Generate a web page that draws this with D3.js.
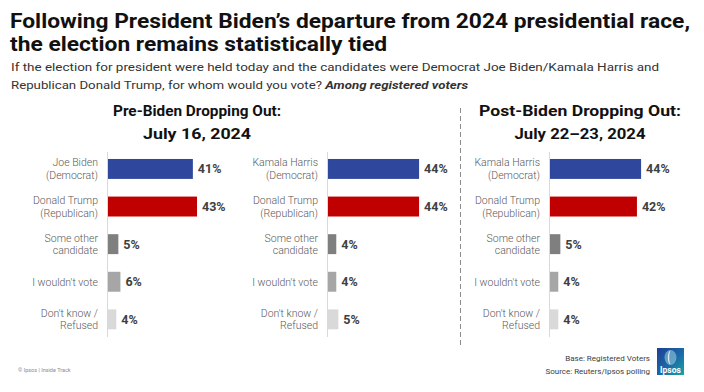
<!DOCTYPE html>
<html>
<head>
<meta charset="utf-8">
<script src="https://cdn.jsdelivr.net/npm/d3@7"></script>
<style>
  body { margin: 0; background: #fff; }
  svg { display: block; font-family: Roboto, "Noto Sans", sans-serif; }
</style>
</head>
<body>
<div id="chart"></div>
<script>
var svgWidth = 704;
var svgHeight = 392;

// data
var bidenLabels = ["Joe Biden|(Democrat)", "Donald Trump|(Republican)", "Some other|candidate", "I wouldn't vote", "Don't know /|Refused"];
var harrisLabels = ["Kamala Harris|(Democrat)", "Donald Trump|(Republican)", "Some other|candidate", "I wouldn't vote", "Don't know /|Refused"];
var preBidenValues = [41, 43, 5, 6, 4];
var preHarrisValues = [44, 44, 4, 4, 5];
var postHarrisValues = [44, 42, 5, 4, 4];
var headings = [
    ["Pre-Biden Dropping Out:", "July 16, 2024"],
    ["Post-Biden Dropping Out:", "July 22\u201323, 2024"]
];

var barColors = ["#2f479c", "#c00000", "#7f7f7f", "#a6a6a6", "#d9d9d9"];

var svg = d3.select("#chart")
    .append("svg")
    .attr("width", svgWidth)
    .attr("height", svgHeight);

// squeeze a text element to a measured width (the original uses a narrow font)
function fitText(sel, w) {
    var len = sel.node().getComputedTextLength();
    if (len > w + 1 || len < w - 1) {
        sel.attr("textLength", w).attr("lengthAdjust", "spacingAndGlyphs");
    }
    return sel;
}

// title
fitText(svg.append("text")
    .attr("x", 10).attr("y", 28)
    .attr("font-size", 21).attr("font-weight", 700).attr("fill", "#111")
    .text("Following President Biden\u2019s departure from 2024 presidential race,"), 680);
fitText(svg.append("text")
    .attr("x", 10).attr("y", 51)
    .attr("font-size", 21).attr("font-weight", 700).attr("fill", "#111")
    .text("the election remains statistically tied"), 377);

// subtitle
fitText(svg.append("text")
    .attr("x", 11).attr("y", 71)
    .attr("font-size", 11.5).attr("fill", "#333")
    .text("If the election for president were held today and the candidates were Democrat Joe Biden/Kamala Harris and"), 648);
var sub2 = svg.append("text")
    .attr("x", 11).attr("y", 89)
    .attr("font-size", 11.5).attr("fill", "#333");
sub2.append("tspan").text("Republican Donald Trump, for whom would you vote? ");
sub2.append("tspan").attr("font-weight", 700).attr("font-style", "italic").text("Among registered voters");
fitText(sub2, 457);

// panel headings
var headX = [197, 580];
var headW = [[168, 108], [202, 131]];
headings.forEach(function (h, i) {
    h.forEach(function (line, j) {
        fitText(svg.append("text")
            .attr("x", headX[i] - headW[i][j] / 2)
            .attr("y", 116 + j * 23)
            .attr("font-size", 15.5).attr("font-weight", 700).attr("fill", "#111")
            .text(line), headW[i][j]);
    });
});

// dashed divider
svg.append("line")
    .attr("x1", 460.5).attr("x2", 460.5)
    .attr("y1", 108).attr("y2", 347)
    .attr("stroke", "#8c8c8c")
    .attr("stroke-width", 1)
    .attr("stroke-dasharray", "5,3");

// scales
var xScale = d3.scaleLinear().domain([0, 50]).range([0, 103.5]);
var yScale = d3.scaleBand()
    .domain(d3.range(5))
    .range([141.3, 347])
    .padding(0.47);

var panels = [
    { x: 107, labels: bidenLabels, values: preBidenValues },
    { x: 327, labels: harrisLabels, values: preHarrisValues },
    { x: 549, labels: harrisLabels, values: postHarrisValues }
];

panels.forEach(function (p) {
    var g = svg.append("g").attr("transform", `translate(${p.x}, 0)`);

    g.append("line")
        .attr("x1", 0.5).attr("x2", 0.5)
        .attr("y1", 152).attr("y2", 337)
        .attr("stroke", "#d9d9d9");

    g.selectAll("rect")
        .data(p.values)
        .enter()
        .append("rect")
        .attr("x", 1)
        .attr("y", (d, i) => yScale(i))
        .attr("width", d => xScale(d))
        .attr("height", yScale.bandwidth())
        .attr("fill", (d, i) => barColors[i]);

    g.selectAll(".val")
        .data(p.values)
        .enter()
        .append("text")
        .attr("class", "val")
        .attr("x", d => xScale(d) + 6)
        .attr("y", (d, i) => yScale(i) + yScale.bandwidth() / 2 + 4.5)
        .attr("font-size", 12.5)
        .attr("font-weight", 700)
        .attr("fill", "#404040")
        .text(d => d + "%");

    p.labels.forEach(function (lab, i) {
        var lines = lab.split("|");
        var cy = yScale(i) + yScale.bandwidth() / 2;
        var t = g.append("text")
            .attr("text-anchor", "end")
            .attr("font-size", 10.5)
            .attr("font-weight", 300)
            .attr("fill", "#595959");
        lines.forEach(function (l, j) {
            t.append("tspan")
                .attr("x", -9)
                .attr("y", lines.length === 1 ? cy + 3.8 : cy - 2.5 + j * 12.5)
                .text(l);
        });
    });
});

// footer
svg.append("text")
    .attr("x", 18).attr("y", 372)
    .attr("font-size", 5.5).attr("fill", "#8c8c8c")
    .text("\u00a9 Ipsos | Inside Track");

svg.append("text")
    .attr("x", 650).attr("y", 361)
    .attr("text-anchor", "end")
    .attr("font-size", 8).attr("fill", "#404040")
    .text("Base: Registered Voters");
svg.append("text")
    .attr("x", 650).attr("y", 374)
    .attr("text-anchor", "end")
    .attr("font-size", 8).attr("fill", "#404040")
    .text("Source: Reuters/Ipsos polling");

// ipsos logo
var defs = svg.append("defs");
var grad = defs.append("linearGradient")
    .attr("id", "ipsosGrad")
    .attr("x1", "0%").attr("y1", "0%")
    .attr("x2", "100%").attr("y2", "100%");
grad.append("stop").attr("offset", "0%").attr("stop-color", "#1e3e95");
grad.append("stop").attr("offset", "55%").attr("stop-color", "#1c6aa8");
grad.append("stop").attr("offset", "100%").attr("stop-color", "#19a6a2");

var logo = svg.append("g").attr("transform", "translate(657, 348)");
logo.append("rect")
    .attr("width", 27).attr("height", 27)
    .attr("fill", "url(#ipsosGrad)");
logo.append("ellipse")
    .attr("cx", 13.5).attr("cy", 9.5)
    .attr("rx", 6).attr("ry", 7.5)
    .attr("fill", "#9fd6e0").attr("opacity", 0.55);
logo.append("path")
    .attr("d", "M13.5,2 C10,4 10,15 13.5,17 C11.8,13 11.8,6 13.5,2 Z")
    .attr("fill", "#ffffff").attr("opacity", 0.8);
logo.append("text")
    .attr("x", 13.5).attr("y", 24.5)
    .attr("text-anchor", "middle")
    .attr("font-size", 8.5).attr("font-weight", 700)
    .attr("fill", "#fff")
    .text("Ipsos");
</script>
</body>
</html>
